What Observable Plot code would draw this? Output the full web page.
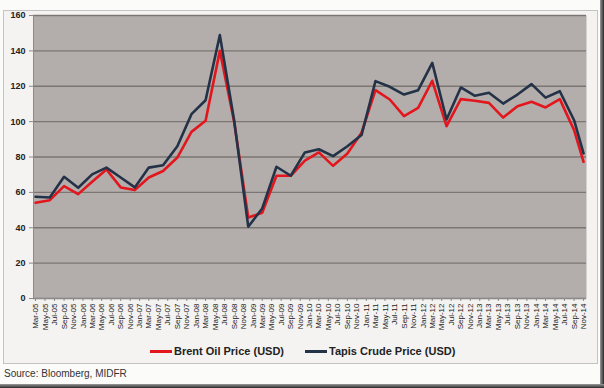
<!DOCTYPE html>
<html>
<head>
<meta charset="utf-8">
<script src="https://cdn.jsdelivr.net/npm/d3@7"></script>
<script src="https://cdn.jsdelivr.net/npm/@observablehq/plot@0.6"></script>
<style>
  html, body { margin: 0; padding: 0; background: #fbfbfa; }
  #wrap { position: relative; width: 604px; height: 388px; overflow: hidden; background: #fbfbfa; font-family: Arial, "Liberation Sans", sans-serif; }
  #box { position: absolute; left: 3px; top: 10px; width: 593px; height: 352px; border: 1px solid #c4c3c1; background: #f4f3f1; }
  #chart { position: absolute; left: 0; top: 0; }
  #legend { position: absolute; top: 344px; left: 0; width: 604px; height: 14px; font-size: 11px; font-weight: bold; color: #222; }
  .sw { position: absolute; top: 6px; width: 22px; height: 3px; }
  .lt { position: absolute; top: 0; line-height: 14px; white-space: nowrap; }
  #source { position: absolute; left: 4px; top: 368px; font-size: 10px; color: #333; white-space: nowrap; }
  #shadowR { position: absolute; right: 0; top: 0; width: 4px; height: 388px; background: linear-gradient(to right, #9a9a9a, #2a2a2a); }
  #shadowB { position: absolute; left: 0; bottom: 0; width: 604px; height: 4px; background: linear-gradient(to bottom, #9a9a9a, #2a2a2a); }
</style>
</head>
<body>
<div id="wrap">
  <div id="box"></div>
  <div id="chart"></div>
  <div id="legend">
    <div class="sw" style="left:150px;background:#e3161d"></div>
    <div class="lt" style="left:174px">Brent Oil Price (USD)</div>
    <div class="sw" style="left:305px;background:#243248"></div>
    <div class="lt" style="left:329px">Tapis Crude Price (USD)</div>
  </div>
  <div id="source">Source: Bloomberg, MIDFR</div>
  <div id="shadowR"></div>
  <div id="shadowB"></div>
</div>
<script>
const dates = [
  "2005-03","2005-06","2005-09","2005-12",
  "2006-03","2006-06","2006-09","2006-12",
  "2007-03","2007-06","2007-09","2007-12",
  "2008-03","2008-06","2008-09","2008-12",
  "2009-03","2009-06","2009-09","2009-12",
  "2010-03","2010-06","2010-09","2010-12",
  "2011-03","2011-06","2011-09","2011-12",
  "2012-03","2012-06","2012-09","2012-12",
  "2013-03","2013-06","2013-09","2013-12",
  "2014-03","2014-06","2014-09","2014-11"
];
const brent = [
  54.1, 55.6, 63.5, 59.0,
  66.0, 72.9, 62.8, 61.3,
  68.4, 72.1, 79.7, 94.2,
  100.5, 140.0, 100.0, 45.8,
  48.5, 69.4, 69.4, 78.0,
  82.6, 75.0, 82.0, 93.7,
  117.8, 112.5, 103.1, 107.8,
  123.1, 97.4, 112.7, 111.8,
  110.6, 102.3, 108.7, 111.2,
  108.0, 112.7, 95.2, 77.3
];
const tapis = [
  57.5, 57.1, 68.8, 62.6,
  70.2, 74.0, 68.4, 62.8,
  74.0, 75.3, 86.1, 104.2,
  112.1, 148.9, 100.8, 40.6,
  50.9, 74.5, 69.4, 82.6,
  84.4, 80.5, 86.1, 92.4,
  122.9, 119.7, 115.3, 117.8,
  133.2, 101.2, 119.3, 114.6,
  116.3, 110.2, 115.3, 121.2,
  113.6, 117.2, 100.8, 82.0
];
const tickMonths = [
  "2005-03","2005-05","2005-07","2005-09","2005-11",
  "2006-01","2006-03","2006-05","2006-07","2006-09","2006-11",
  "2007-01","2007-03","2007-05","2007-07","2007-09","2007-11",
  "2008-01","2008-03","2008-05","2008-07","2008-09","2008-11",
  "2009-01","2009-03","2009-05","2009-07","2009-09","2009-11",
  "2010-01","2010-03","2010-05","2010-07","2010-09","2010-11",
  "2011-01","2011-03","2011-05","2011-07","2011-09","2011-11",
  "2012-01","2012-03","2012-05","2012-07","2012-09","2012-11",
  "2013-01","2013-03","2013-05","2013-07","2013-09","2013-11",
  "2014-01","2014-03","2014-05","2014-07","2014-09","2014-11"
];
const tickLabels = [
  "Mar-05","May-05","Jul-05","Sep-05","Nov-05",
  "Jan-06","Mar-06","May-06","Jul-06","Sep-06","Nov-06",
  "Jan-07","Mar-07","May-07","Jul-07","Sep-07","Nov-07",
  "Jan-08","Mar-08","May-08","Jul-08","Sep-08","Nov-08",
  "Jan-09","Mar-09","May-09","Jul-09","Sep-09","Nov-09",
  "Jan-10","Mar-10","May-10","Jul-10","Sep-10","Nov-10",
  "Jan-11","Mar-11","May-11","Jul-11","Sep-11","Nov-11",
  "Jan-12","Mar-12","May-12","Jul-12","Sep-12","Nov-12",
  "Jan-13","Mar-13","May-13","Jul-13","Sep-13","Nov-13",
  "Jan-14","Mar-14","May-14","Jul-14","Sep-14","Nov-14"
];
const yTicks = [0, 20, 40, 60, 80, 100, 120, 140, 160];

const parse = s => new Date(s + "-01T00:00:00Z");
const rows = dates.map((d, i) => ({date: parse(d), brent: brent[i], tapis: tapis[i]}));
const tickDates = tickMonths.map(parse);
const labelOf = new Map(tickDates.map((d, i) => [+d, tickLabels[i]]));
const xDomain = [new Date("2005-02-16T00:00:00Z"), new Date("2014-11-20T00:00:00Z")];

const chart = Plot.plot({
  width: 604,
  height: 340,
  marginLeft: 33,
  marginRight: 18,
  marginTop: 15,
  marginBottom: 42,
  style: {background: "transparent", fontFamily: "Arial, 'Liberation Sans', sans-serif", color: "#222"},
  x: {type: "utc", domain: xDomain},
  y: {domain: [0, 160]},
  marks: [
    Plot.frame({fill: "#b3aeab", stroke: null}),
    Plot.gridY(yTicks, {stroke: "#7c7673", strokeOpacity: 1, strokeWidth: 1.3}),
    Plot.ruleX([xDomain[0]], {stroke: "#8a8a8a", strokeWidth: 1}),
    Plot.ruleY([0], {stroke: "#8a8a8a", strokeWidth: 1}),
    Plot.lineY(rows, {x: "date", y: "brent", stroke: "#e3161d", strokeWidth: 2.6}),
    Plot.lineY(rows, {x: "date", y: "tapis", stroke: "#243248", strokeWidth: 2.6}),
    Plot.axisY(yTicks, {tickSize: 4, tickPadding: 4, fontSize: 9, fontWeight: "bold", label: null, stroke: "#8a8a8a"}),
    Plot.axisX(tickDates, {tickSize: 3, tickPadding: 2, tickRotate: -90, fontSize: 8, label: null,
      tickFormat: d => labelOf.get(+d), stroke: "#8a8a8a"})
  ]
});
document.getElementById("chart").appendChild(chart);
</script>
</body>
</html>
